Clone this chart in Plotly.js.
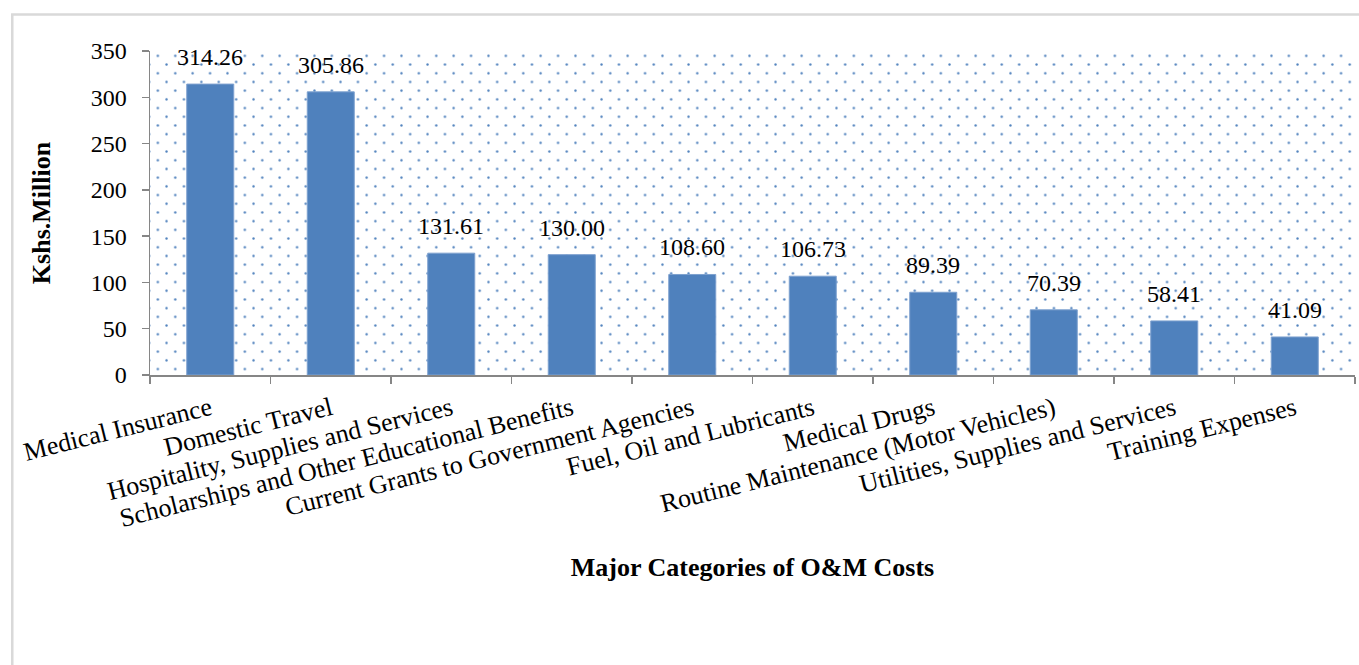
<!DOCTYPE html>
<html>
<head>
<meta charset="utf-8">
<script src="https://cdn.plot.ly/plotly-3.0.1.min.js"></script>
<style>
html,body{margin:0;padding:0;background:#fff;}
#chart{width:1359px;height:665px;}
</style>
</head>
<body>
<div id="chart"></div>
<script>
const categories = [
  "Medical Insurance",
  "Domestic Travel",
  "Hospitality, Supplies and Services",
  "Scholarships and Other Educational Benefits",
  "Current Grants to Government Agencies",
  "Fuel, Oil and Lubricants",
  "Medical Drugs",
  "Routine Maintenance (Motor Vehicles)",
  "Utilities, Supplies and Services",
  "Training Expenses"
];
const values = [314.26, 305.86, 131.61, 130.00, 108.60, 106.73, 89.39, 70.39, 58.41, 41.09];
const yTickVals = [0, 50, 100, 150, 200, 250, 300, 350];

const FONT = "Liberation Serif, Times New Roman, serif";
const BLUE = "#4f81bd";
const AXIS = "#868686";

// Dotted background texture for the plot area
const dotSvg = "<svg xmlns='http://www.w3.org/2000/svg' width='1205' height='324' viewBox='0 0 1205 324' preserveAspectRatio='none'>" +
  "<defs><pattern id='p' x='3.5' y='0.5' width='17.4' height='17.4' patternUnits='userSpaceOnUse'>" +
  "<circle cx='4.35' cy='4.35' r='1.2' fill='" + BLUE + "'/>" +
  "<circle cx='13.05' cy='13.05' r='1.2' fill='" + BLUE + "'/>" +
  "</pattern></defs><rect x='0' y='0' width='1205' height='324' fill='url(#p)'/></svg>";
const dotUri = "data:image/svg+xml;charset=utf-8," + encodeURIComponent(dotSvg);

const barTrace = {
  type: "bar",
  x: categories,
  y: values,
  width: 0.39,
  marker: {color: BLUE, line: {color: "#7ea1cf", width: 1}},
  hoverinfo: "x+y",
  showlegend: false
};

const valueAnnotations = categories.map((c, i) => ({
  x: c,
  y: values[i],
  xref: "x",
  yref: "y",
  text: values[i].toFixed(2),
  showarrow: false,
  yanchor: "bottom",
  xanchor: "center",
  yshift: 12,
  font: {family: FONT, size: 24, color: "#000"}
}));

const layout = {
  width: 1359,
  height: 665,
  margin: {l: 150, r: 4, t: 51, b: 290, pad: 0},
  paper_bgcolor: "#fff",
  plot_bgcolor: "rgba(0,0,0,0)",
  font: {family: FONT, size: 24, color: "#000"},
  showlegend: false,
  bargap: 0.61,
  xaxis: {
    type: "category",
    range: [-0.5, categories.length - 0.5],
    tickson: "boundaries",
    ticks: "outside",
    ticklen: 7,
    tickwidth: 1.5,
    tickcolor: AXIS,
    showline: true,
    linecolor: AXIS,
    linewidth: 1.5,
    showgrid: false,
    zeroline: false,
    tickangle: -14,
    automargin: false,
    ticklabelstandoff: 7,
    tickfont: {family: FONT, size: 26, color: "#000"},
    title: {
      text: "<b>Major Categories of O&amp;M Costs</b>",
      font: {family: FONT, size: 26, color: "#000"},
      standoff: 26
    }
  },
  yaxis: {
    range: [0, 350],
    tickvals: yTickVals,
    ticktext: yTickVals.map(String),
    ticks: "outside",
    ticklen: 7,
    tickwidth: 1.5,
    tickcolor: AXIS,
    showline: true,
    linecolor: AXIS,
    linewidth: 1.5,
    showgrid: false,
    zeroline: false,
    automargin: false,
    ticklabelstandoff: 10,
    tickfont: {family: FONT, size: 24, color: "#000"},
    title: {
      text: "<b>Kshs.Million</b>",
      font: {family: FONT, size: 26, color: "#000"},
      standoff: 32
    }
  },
  images: [{
    source: dotUri,
    xref: "paper", yref: "paper",
    x: 0, y: 1,
    sizex: 1, sizey: 1,
    xanchor: "left", yanchor: "top",
    sizing: "stretch",
    layer: "below"
  }],
  shapes: [{
    type: "rect",
    xref: "paper", yref: "paper",
    x0: -0.1143, x1: 1.2, y0: -1.2, y1: 1.1127,
    line: {color: "#d9d9d9", width: 2.5},
    fillcolor: "rgba(0,0,0,0)",
    layer: "below"
  }],
  annotations: valueAnnotations
};

Plotly.newPlot("chart", [barTrace], layout, {displayModeBar: false, staticPlot: true});
</script>
</body>
</html>
